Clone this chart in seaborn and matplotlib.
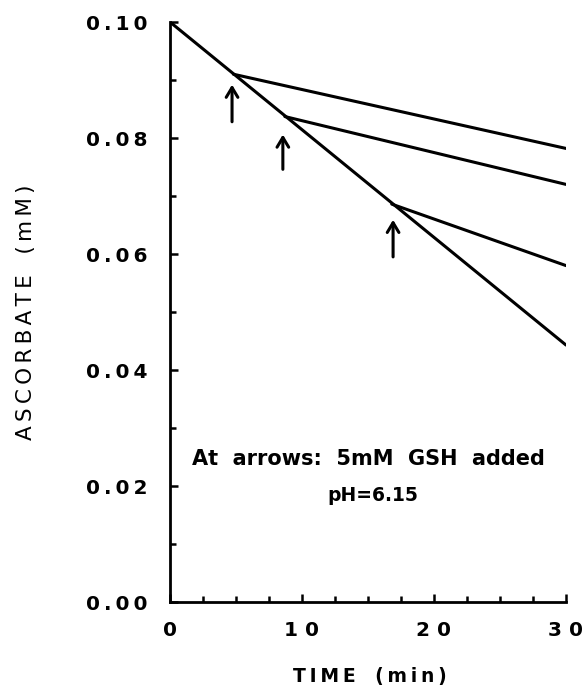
import numpy as np
import pandas as pd
import matplotlib
matplotlib.use("Agg")
import matplotlib.pyplot as plt
import seaborn as sns
from matplotlib.ticker import MultipleLocator

# Data
control_time = [0, 30]
control_asc = [0.100, 0.0443]
branch_names = ["GSH at 4.8 min", "GSH at 8.7 min", "GSH at 16.8 min"]
branch_time = [[4.8, 30], [8.7, 30], [16.8, 30]]
branch_asc = [[0.0910, 0.0782], [0.0837, 0.0720], [0.0686, 0.0580]]
arrow_x = [4.7, 8.55, 16.9]
arrow_y0 = [0.0828, 0.0746, 0.0595]
arrow_y1 = [0.0892, 0.0806, 0.0659]
xticks = [0, 10, 20, 30]
xtick_labels = ["0", "10", "20", "30"]
yticks = [0.00, 0.02, 0.04, 0.06, 0.08, 0.10]
ytick_labels = ["0.00", "0.02", "0.04", "0.06", "0.08", "0.10"]
note_line1 = "At  arrows:  5mM  GSH  added"
note_line2 = "pH=6.15"


def spaced(s, sep="\u2009"):
    return sep.join(s)


rows = []
for t, a in zip(control_time, control_asc):
    rows.append(dict(series="control", time=t, asc=a))
for name, ts, as_ in zip(branch_names, branch_time, branch_asc):
    for t, a in zip(ts, as_):
        rows.append(dict(series=name, time=t, asc=a))
df = pd.DataFrame(rows)

sns.set_style("ticks")
plt.rcParams['font.family'] = ['DejaVu Sans']
plt.rcParams['text.color'] = 'black'
plt.rcParams['axes.labelcolor'] = 'black'
plt.rcParams['xtick.color'] = 'black'
plt.rcParams['ytick.color'] = 'black'

fig = plt.figure(figsize=(5.84, 6.92), dpi=100)
ax = fig.add_axes([170 / 584, 1 - 602 / 692, 396 / 584, 580 / 692])

sns.lineplot(data=df, x="time", y="asc", units="series", estimator=None,
             color="black", linewidth=2.2, ax=ax, legend=False)

for x, y0, y1 in zip(arrow_x, arrow_y0, arrow_y1):
    ax.annotate("", xy=(x, y1), xytext=(x, y0),
                arrowprops=dict(arrowstyle="->,head_length=0.5,head_width=0.3",
                                color="black", lw=2.2,
                                mutation_scale=14, shrinkA=0, shrinkB=0))

ax.text(15.05, 0.0247, note_line1, ha="center", va="center",
        fontsize=15, fontweight="bold", color="black")
ax.text(15.4, 0.0183, note_line2, ha="center", va="center",
        fontsize=13.5, fontweight="bold", color="black")

ax.set_xlim(0, 30)
ax.set_ylim(0, 0.10)
ax.set_xticks(xticks)
ax.xaxis.set_minor_locator(MultipleLocator(2.5))
ax.set_yticks(yticks)
ax.yaxis.set_minor_locator(MultipleLocator(0.01))
ax.set_xticklabels([spaced(s, " ") for s in xtick_labels])
ax.set_yticklabels([spaced(s) for s in ytick_labels])
ax.tick_params(axis="both", which="both", direction="in", width=1.8,
               colors="black", labelcolor="black")
ax.tick_params(axis="both", which="major", length=6, labelsize=14.5)
ax.tick_params(axis="y", which="major", pad=16)
ax.tick_params(axis="x", which="major", pad=14)
ax.tick_params(axis="both", which="minor", length=4)
for lab in ax.get_xticklabels() + ax.get_yticklabels():
    lab.set_fontweight("bold")

sns.despine(ax=ax)
for s in ["left", "bottom"]:
    ax.spines[s].set_linewidth(2)
    ax.spines[s].set_color("black")

ax.set_xlabel(spaced("TIME") + "   " + spaced("(min)"), fontsize=13.5,
              fontweight="bold", va="center", color="black")
ax.xaxis.set_label_coords(0.505, -0.1276)
ax.set_ylabel(spaced("ASCORBATE") + "   " + spaced("(mM)"), fontsize=15.5,
              va="center", color="black")
ax.yaxis.set_label_coords(-0.364, 0.50)

fig.savefig("out.png", dpi=100)
